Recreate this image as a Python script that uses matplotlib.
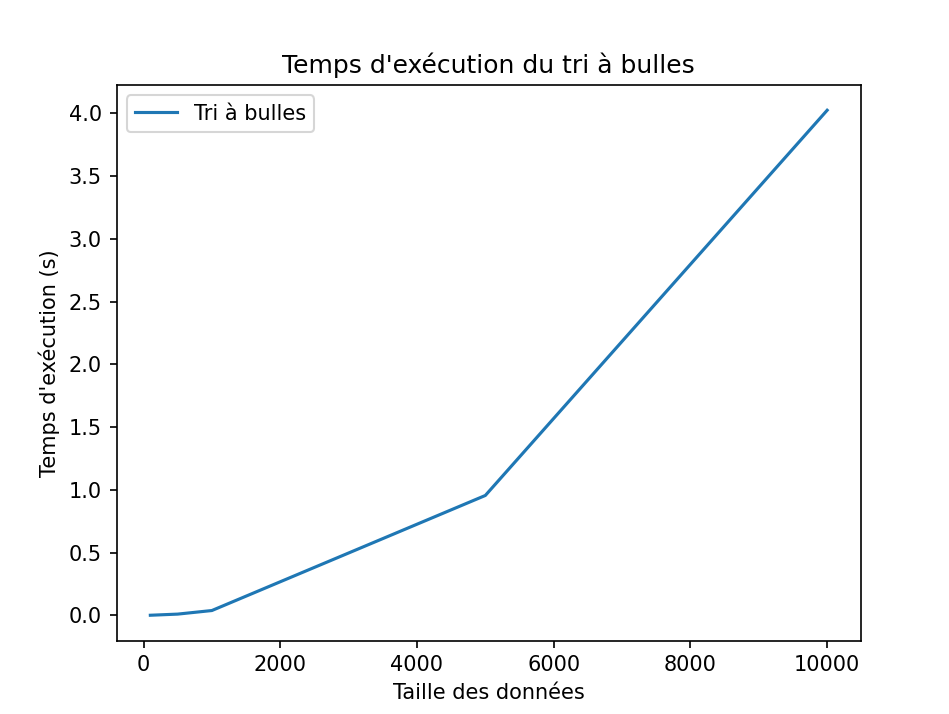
import matplotlib.pyplot as plt

tailles = [100, 500, 1000, 5000, 10000]
temps = [0.0004, 0.0095, 0.038, 0.955, 4.025]

W, H = 949, 714
fig = plt.figure(figsize=(W / 150, H / 150), dpi=150)
fig.subplots_adjust(left=116.5 / W, right=861 / W, top=1 - 85 / H, bottom=1 - 640.5 / H)
plt.plot(tailles, temps, label="Tri à bulles")
plt.xlabel("Taille des données")
plt.ylabel("Temps d'exécution (s)")
plt.title("Temps d'exécution du tri à bulles")
plt.legend()
plt.savefig("out.png", dpi=150)
